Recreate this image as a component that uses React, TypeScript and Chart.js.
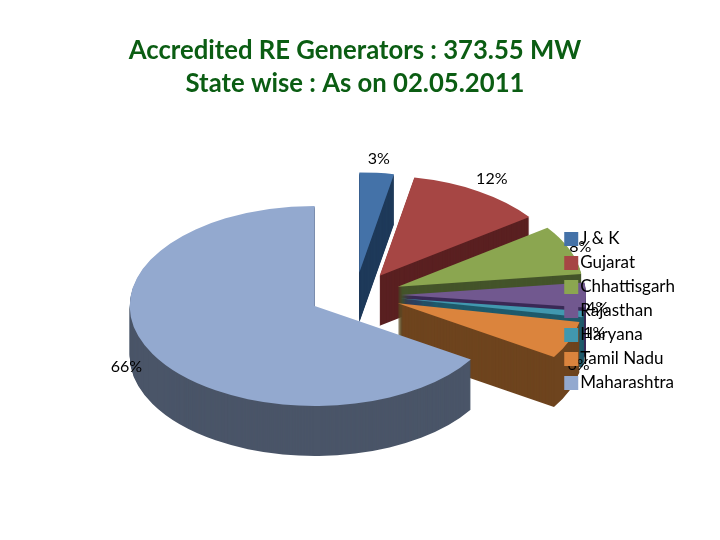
import React, { useEffect, useRef } from "react";
import { Chart, registerables } from "chart.js";

Chart.register(...registerables);

const titleLines = ["Accredited RE Generators : 373.55 MW", "State wise : As on 02.05.2011"];
const states = ["J & K", "Gujarat", "Chhattisgarh", "Rajasthan", "Haryana", "Tamil Nadu", "Maharashtra"];
const shares = [3, 12, 8, 4, 1, 6, 66];
const topColors = ["#4472A8", "#A64644", "#8BA650", "#71588F", "#4198AF", "#DB843D", "#93A9CF"];
const sideColors = ["#1F3A5A", "#5A2021", "#44542A", "#3A2A56", "#1F5A6B", "#6E441E", "#4A5568"];
const labelReach = [1.37, 1.38, 1.31, 1.31, 1.31, 1.3, 1.41];
const labelDrop = [0, 0, 0, 13, 17, 22, 4];

const PIE_X = 355;
const PIE_Y = 295;
const RADIUS = 185;
const EXPLODE_X = 46;
const EXPLODE_Y = 42;
const SQUASH = 100 / 185;
const DEPTH = 50;
const LABEL_FONT = "16px Lato";

const pie3d = {
  id: "pie3d",
  // Painted before the layout boxes, so the legend and title stay on top of the pie.
  beforeDraw(chart: any) {
    const ctx = chart.ctx;
    const arcs = chart.getDatasetMeta(0).data;
    arcs.forEach((arc: any, i: number) => {
      const base = arc.options;
      const mid = (arc.startAngle + arc.endAngle) / 2;
      const place = (dy: number) => {
        ctx.save();
        ctx.translate(PIE_X, PIE_Y + dy);
        ctx.scale(1, SQUASH);
        ctx.translate(Math.cos(mid) * EXPLODE_X - arc.x, Math.sin(mid) * EXPLODE_Y - arc.y);
        arc.draw(ctx);
        ctx.restore();
      };
      arc.options = { ...base, backgroundColor: sideColors[i], borderWidth: 0 };
      for (let d = DEPTH; d > 0; d--) place(d);
      arc.options = { ...base, backgroundColor: topColors[i], borderWidth: 0 };
      place(0);
      arc.options = base;
    });
    ctx.save();
    ctx.font = LABEL_FONT;
    ctx.fillStyle = "#000";
    ctx.textAlign = "center";
    ctx.textBaseline = "middle";
    const total = shares.reduce((a, b) => a + b, 0);
    arcs.forEach((arc: any, i: number) => {
      const mid = (arc.startAngle + arc.endAngle) / 2;
      const x = PIE_X + Math.cos(mid) * RADIUS * labelReach[i];
      const y = PIE_Y + Math.sin(mid) * RADIUS * SQUASH * labelReach[i] + labelDrop[i];
      ctx.fillText(Math.round((shares[i] / total) * 100) + "%", x, y);
    });
    ctx.restore();
  },
  beforeDatasetDraw() {
    return false;
  },
};

export default function App() {
  const ref = useRef<HTMLCanvasElement>(null);
  useEffect(() => {
    const chart = new Chart(ref.current as HTMLCanvasElement, {
      type: "pie",
      data: {
        labels: states,
        datasets: [
          {
            data: shares,
            backgroundColor: topColors,
            borderWidth: 0,
            radius: RADIUS,
          } as any,
        ],
      },
      options: {
        responsive: false,
        animation: false,
        events: [],
        layout: { padding: { left: 25, right: 35, top: 34, bottom: 19 } },
        plugins: {
          tooltip: { enabled: false },
          title: {
            display: true,
            text: titleLines,
            color: "#0B5D13",
            font: { family: "Lato", size: 25.7, weight: "bold", lineHeight: 1.3 },
            padding: { top: 0, bottom: 0 },
          },
          legend: {
            display: true,
            position: "right",
            align: "center",
            fullSize: false,
            labels: {
              usePointStyle: true,
              pointStyle: "rect",
              boxWidth: 1,
              boxHeight: 14,
              padding: 7,
              color: "#000",
              font: { family: "Lato", size: 17, lineHeight: 1.2 },
            },
          },
        },
      },
      plugins: [pie3d],
    } as any);
    return () => chart.destroy();
  }, []);
  return (
    <canvas
      ref={ref}
      width={720}
      height={540}
      style={{ position: "fixed", left: 0, top: 0, display: "block" }}
    />
  );
}
